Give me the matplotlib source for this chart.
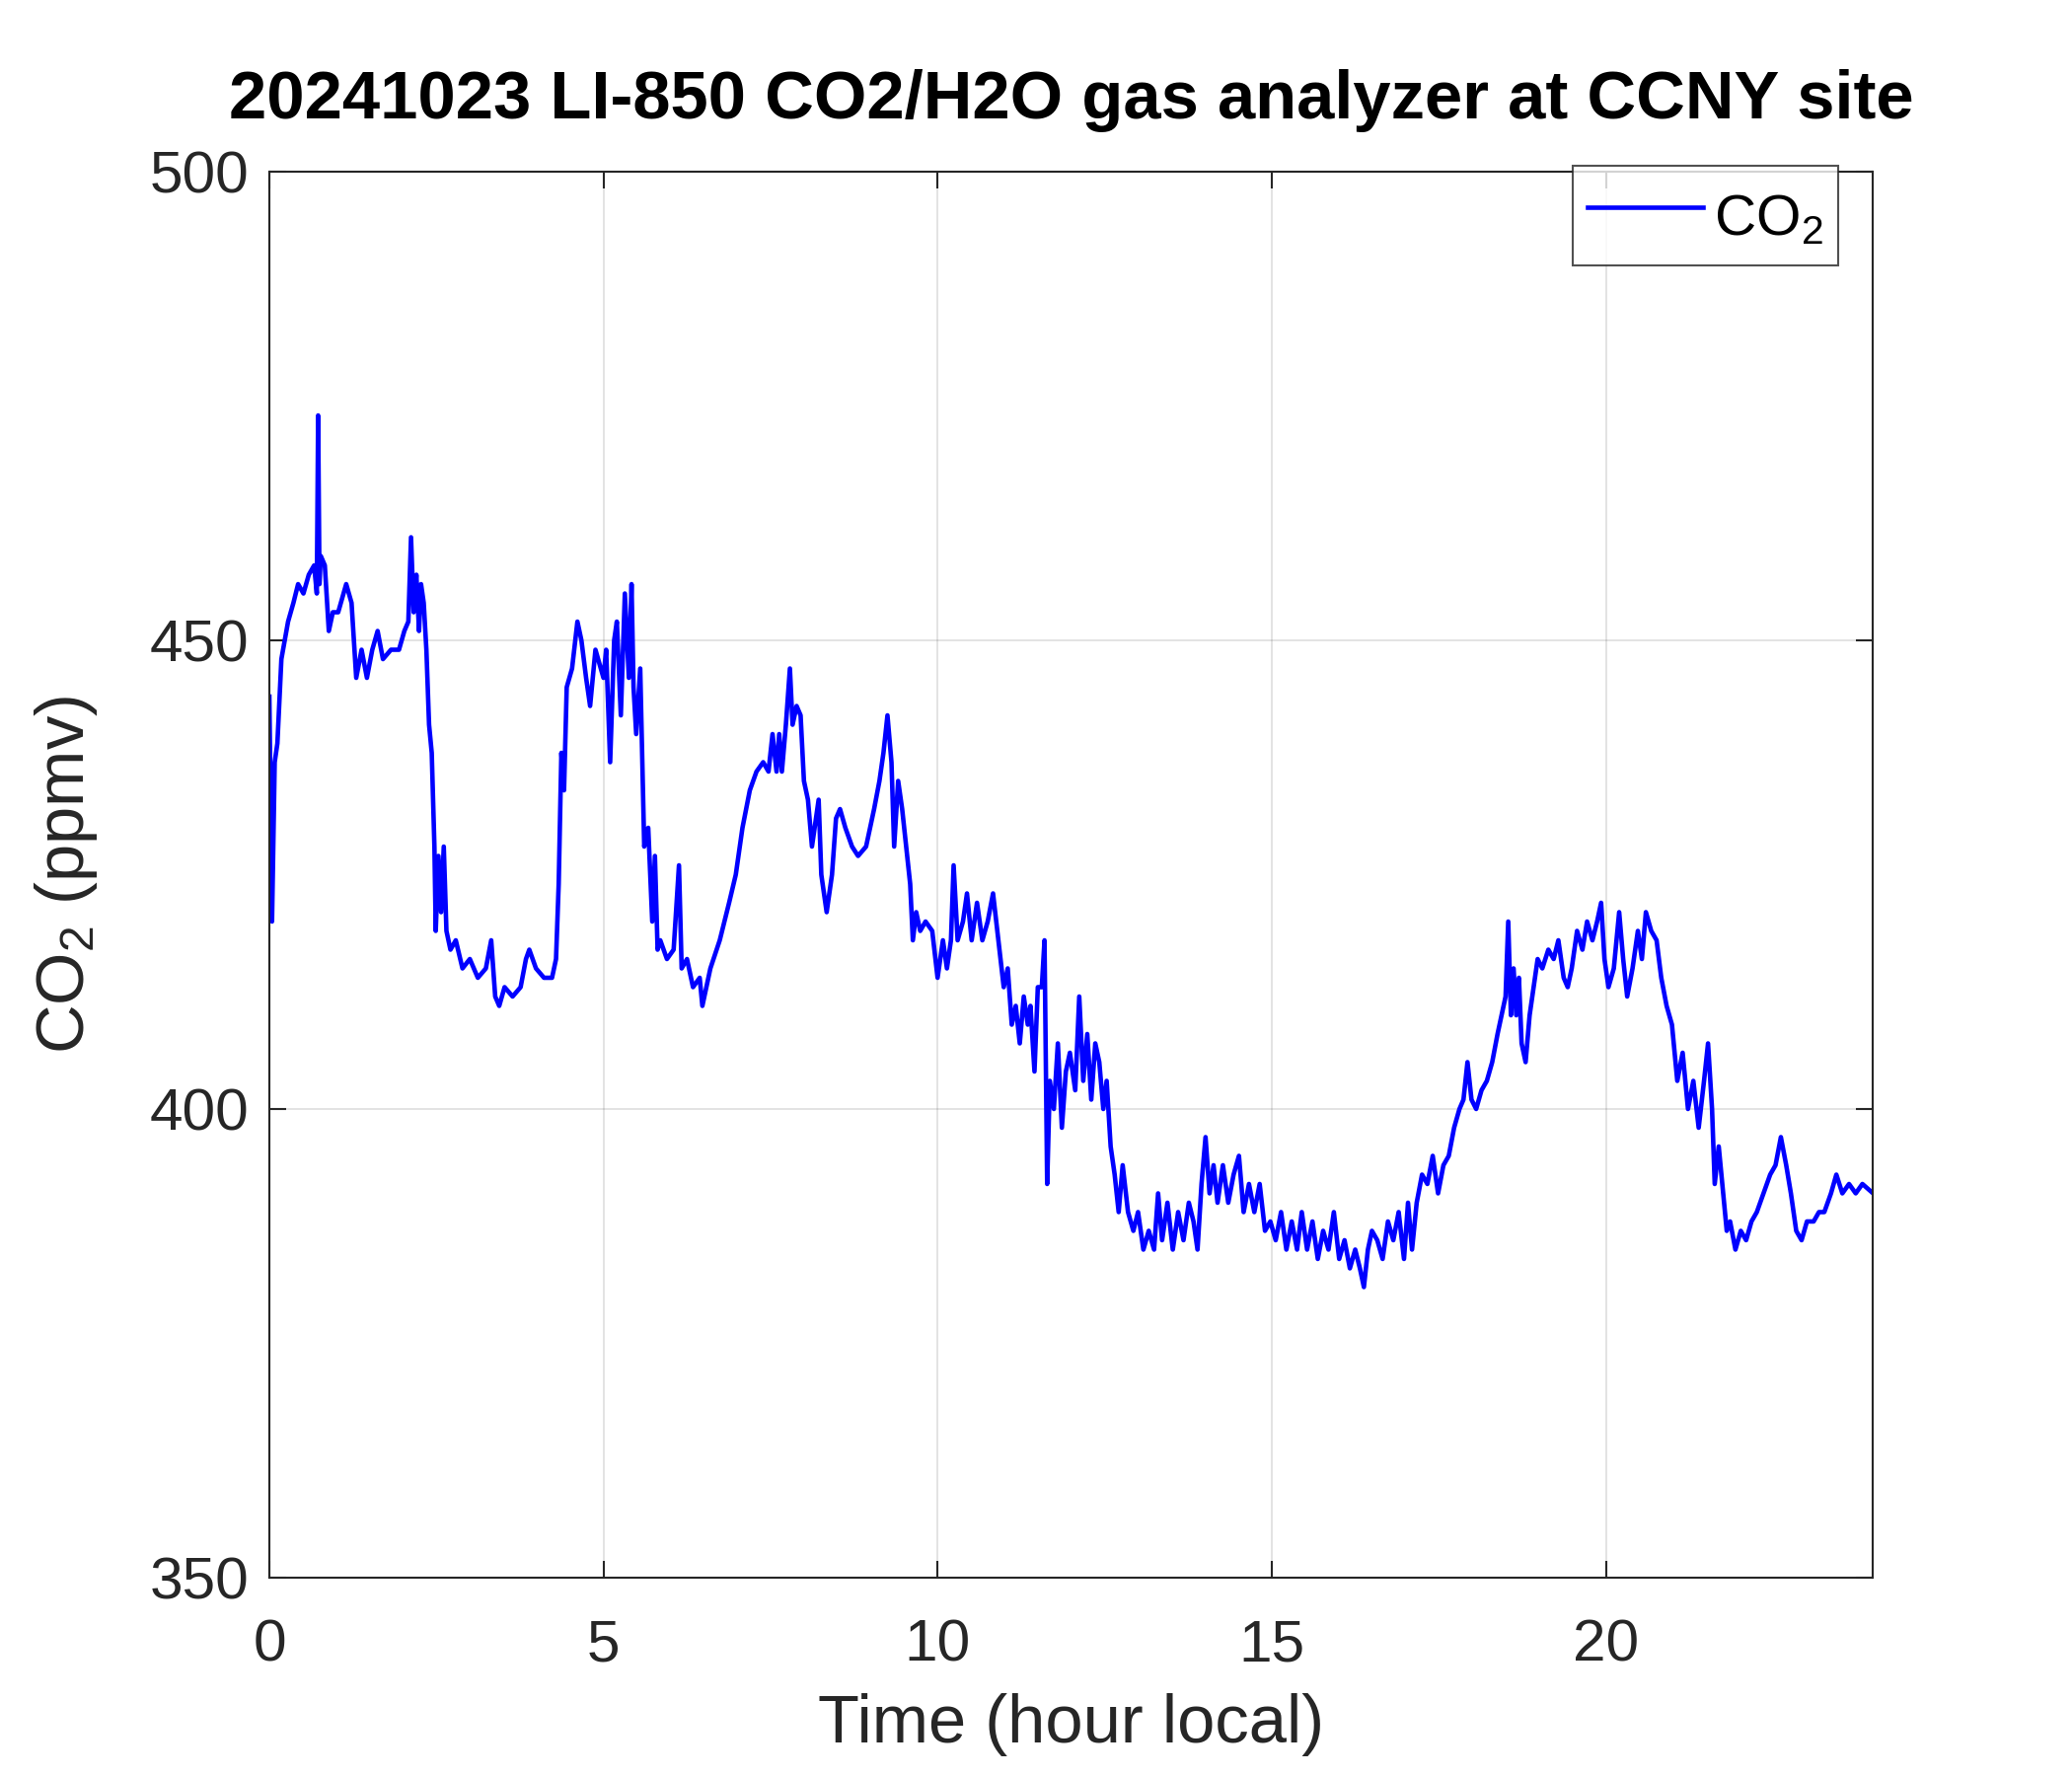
import matplotlib
matplotlib.use("Agg")
import matplotlib.pyplot as plt

plt.rcParams['font.family'] = ['Liberation Sans', 'DejaVu Sans']
plt.rcParams['mathtext.default'] = 'regular'

# hour (local) and CO2 (ppmv)
hours = [
    0.00, 0.04, 0.08, 0.12, 0.18, 0.28, 0.36, 0.43, 0.51, 0.59, 0.67, 0.71, 0.73, 0.75, 0.77, 0.83, 0.89, 0.95,
    1.03, 1.15, 1.23, 1.30, 1.38, 1.46, 1.54, 1.62, 1.70, 1.82, 1.94, 2.02, 2.08, 2.12, 2.16, 2.20, 2.24, 2.27,
    2.31, 2.35, 2.39, 2.43, 2.47, 2.49, 2.53, 2.57, 2.61, 2.65, 2.71, 2.79, 2.89, 3.00, 3.12, 3.24, 3.32, 3.38,
    3.44, 3.52, 3.64, 3.76, 3.84, 3.89, 3.99, 4.11, 4.23, 4.29, 4.33, 4.37, 4.41, 4.45, 4.53, 4.61, 4.67, 4.74,
    4.80, 4.88, 4.96, 5.00, 5.04, 5.10, 5.16, 5.20, 5.26, 5.32, 5.38, 5.42, 5.45, 5.49, 5.55, 5.61, 5.67, 5.73,
    5.77, 5.81, 5.85, 5.95, 6.05, 6.13, 6.17, 6.25, 6.34, 6.44, 6.48, 6.60, 6.74, 6.88, 6.98, 7.08, 7.19, 7.29,
    7.39, 7.47, 7.53, 7.59, 7.63, 7.67, 7.73, 7.79, 7.83, 7.89, 7.95, 8.00, 8.06, 8.12, 8.18, 8.22, 8.26, 8.30,
    8.34, 8.42, 8.48, 8.54, 8.62, 8.72, 8.81, 8.93, 9.05, 9.13, 9.19, 9.25, 9.31, 9.35, 9.41, 9.47, 9.53, 9.59,
    9.63, 9.68, 9.74, 9.82, 9.92, 10.00, 10.08, 10.14, 10.20, 10.24, 10.30, 10.38, 10.44, 10.51, 10.59, 10.67,
    10.75, 10.83, 10.91, 10.99, 11.05, 11.11, 11.17, 11.23, 11.29, 11.35, 11.39, 11.45, 11.50, 11.56, 11.60,
    11.64, 11.68, 11.74, 11.80, 11.86, 11.92, 11.98, 12.06, 12.12, 12.18, 12.24, 12.30, 12.36, 12.42, 12.48,
    12.53, 12.59, 12.65, 12.71, 12.77, 12.85, 12.93, 13.00, 13.08, 13.16, 13.24, 13.30, 13.36, 13.44, 13.52,
    13.60, 13.68, 13.76, 13.83, 13.89, 13.95, 14.01, 14.07, 14.13, 14.19, 14.27, 14.35, 14.43, 14.51, 14.58,
    14.66, 14.74, 14.82, 14.90, 14.98, 15.06, 15.14, 15.22, 15.30, 15.38, 15.45, 15.53, 15.61, 15.69, 15.77,
    15.85, 15.93, 16.01, 16.09, 16.17, 16.25, 16.32, 16.38, 16.44, 16.50, 16.58, 16.66, 16.74, 16.82, 16.90,
    16.98, 17.04, 17.10, 17.17, 17.25, 17.33, 17.41, 17.49, 17.57, 17.65, 17.73, 17.81, 17.87, 17.93, 17.99,
    18.06, 18.14, 18.22, 18.30, 18.38, 18.44, 18.50, 18.54, 18.58, 18.62, 18.66, 18.70, 18.74, 18.80, 18.86,
    18.92, 18.98, 19.05, 19.14, 19.22, 19.29, 19.37, 19.43, 19.49, 19.57, 19.65, 19.72, 19.80, 19.87, 19.93,
    19.98, 20.04, 20.12, 20.20, 20.26, 20.32, 20.40, 20.48, 20.54, 20.60, 20.68, 20.76, 20.83, 20.91, 20.99,
    21.07, 21.15, 21.23, 21.31, 21.39, 21.47, 21.53, 21.59, 21.63, 21.69, 21.77, 21.81, 21.86, 21.94, 22.02,
    22.10, 22.18, 22.26, 22.36, 22.46, 22.54, 22.62, 22.70, 22.77, 22.85, 22.93, 23.01, 23.11, 23.19, 23.27,
    23.37, 23.45, 23.54, 23.64, 23.74, 23.84, 24.00,
]
co2 = [
    444, 420, 437, 439, 448, 452, 454, 456, 455, 457, 458, 455, 474, 456, 459, 458, 451, 453,
    453, 456, 454, 446, 449, 446, 449, 451, 448, 449, 449, 451, 452, 461, 453, 457, 451, 456,
    454, 449, 441, 438, 428, 419, 427, 421, 428, 419, 417, 418, 415, 416, 414, 415, 418, 412,
    411, 413, 412, 413, 416, 417, 415, 414, 414, 416, 424, 438, 434, 445, 447, 452, 450, 446,
    443, 449, 447, 446, 449, 437, 450, 452, 442, 455, 446, 456, 445, 440, 447, 428, 430, 420,
    427, 417, 418, 416, 417, 426, 415, 416, 413, 414, 411, 415, 418, 422, 425, 430, 434, 436,
    437, 436, 440, 436, 440, 436, 441, 447, 441, 443, 442, 435, 433, 428, 431, 433, 425, 423,
    421, 425, 431, 432, 430, 428, 427, 428, 432, 435, 438, 442, 437, 428, 435, 432, 428, 424,
    418, 421, 419, 420, 419, 414, 418, 415, 418, 426, 418, 420, 423, 418, 422, 418,
    420, 423, 418, 413, 415, 409, 411, 407, 412, 409, 411, 404, 413, 413, 418,
    392, 403, 400, 407, 398, 404, 406, 402, 412, 403, 408, 401, 407, 405, 400,
    403, 396, 393, 389, 394, 389, 387, 389, 385, 387, 385, 391, 386, 390, 385,
    389, 386, 390, 388, 385, 392, 397, 391, 394, 390, 394, 390, 393, 395, 389,
    392, 389, 392, 387, 388, 386, 389, 385, 388, 385, 389, 385, 388, 384, 387,
    385, 389, 384, 386, 383, 385, 383, 381, 385, 387, 386, 384, 388, 386, 389,
    384, 390, 385, 390, 393, 392, 395, 391, 394, 395, 398, 400, 401, 405, 401,
    400, 402, 403, 405, 408, 410, 412, 420, 410, 415, 410, 414, 407, 405, 410,
    413, 416, 415, 417, 416, 418, 414, 413, 415, 419, 417, 420, 418, 420, 422,
    416, 413, 415, 421, 416, 412, 415, 419, 416, 421, 419, 418, 414, 411, 409,
    403, 406, 400, 403, 398, 403, 407, 400, 392, 396, 390, 387, 388, 385, 387,
    386, 388, 389, 391, 393, 394, 397, 394, 391, 387, 386, 388, 388, 389, 389,
    391, 393, 391, 392, 391, 392, 391,
]

xticks = [0, 5, 10, 15, 20]
yticks = [350, 400, 450, 500]

dark = (0.15, 0.15, 0.15)

fig = plt.figure(figsize=(14, 12), dpi=150)
ax = fig.add_axes([0.130, 0.1117, 0.774, 0.7916])

ax.plot(hours, co2, color='#0000ff', linewidth=2.2, label='CO$_2$')

ax.set_xlim(0, 24)
ax.set_ylim(350, 500)
ax.set_xticks(xticks)
ax.set_yticks(yticks)
ax.grid(True, color=(0.15, 0.15, 0.15), alpha=0.15, linewidth=0.8)
ax.tick_params(direction='in', length=8, width=1, colors=dark, labelsize=29,
               top=True, right=True)
ax.tick_params(axis='x', pad=20)
ax.tick_params(axis='y', pad=10)
for s in ax.spines.values():
    s.set_color(dark)
    s.set_linewidth(1.0)

ax.set_xlabel('Time (hour local)', fontsize=33, color=dark, labelpad=10)
ax.set_ylabel('CO$_2$ (ppmv)', fontsize=33, color=dark, labelpad=24)
ax.set_title('20241023 LI-850 CO2/H2O gas analyzer at CCNY site',
             fontsize=33, fontweight='bold', color='black', pad=26)

leg = ax.legend(loc='upper right', bbox_to_anchor=(0.978, 1.004), borderaxespad=0,
                fontsize=28, frameon=True, fancybox=False, edgecolor=dark,
                handlelength=2.0, handletextpad=0.2, borderpad=0.25, handleheight=1.5)
leg.get_frame().set_linewidth(1.0)

fig.savefig('out.png', dpi=150)
